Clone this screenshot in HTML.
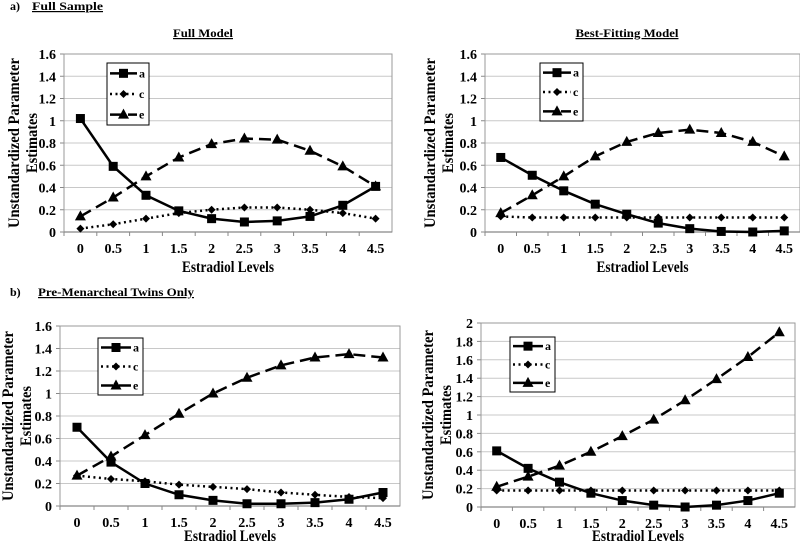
<!DOCTYPE html>
<html><head><meta charset="utf-8"><style>
body{margin:0;background:#fff;}
svg{display:block;}
svg text{font-family:"Liberation Serif","DejaVu Serif",serif;font-weight:bold;}
</style></head><body>
<svg id="fig" width="800" height="546" viewBox="0 0 800 546"></svg>
<script>
const xCats=["0","0.5","1","1.5","2","2.5","3","3.5","4","4.5"];
const p1A=[1.02,0.59,0.33,0.19,0.12,0.09,0.10,0.14,0.24,0.41];
const p1C=[0.03,0.07,0.12,0.17,0.20,0.22,0.22,0.20,0.17,0.12];
const p1E=[0.14,0.31,0.50,0.67,0.79,0.84,0.83,0.73,0.59,0.41];
const p2A=[0.67,0.51,0.37,0.25,0.16,0.08,0.03,0.005,0,0.01];
const p2C=[0.14,0.13,0.13,0.13,0.13,0.13,0.13,0.13,0.13,0.13];
const p2E=[0.17,0.33,0.50,0.68,0.81,0.89,0.92,0.89,0.81,0.68];
const p3A=[0.70,0.39,0.20,0.10,0.05,0.02,0.02,0.03,0.06,0.12];
const p3C=[0.27,0.24,0.22,0.19,0.17,0.15,0.12,0.10,0.08,0.07];
const p3E=[0.27,0.44,0.63,0.82,1.00,1.14,1.25,1.32,1.35,1.32];
const p4A=[0.61,0.42,0.27,0.15,0.07,0.02,0,0.02,0.07,0.15];
const p4C=[0.18,0.18,0.18,0.18,0.18,0.18,0.18,0.18,0.18,0.18];
const p4E=[0.22,0.33,0.45,0.60,0.77,0.95,1.16,1.39,1.63,1.90];
const yTicks16=["0","0.2","0.4","0.6","0.8","1","1.2","1.4","1.6"];
const yTicks2=["0","0.2","0.4","0.6","0.8","1","1.2","1.4","1.6","1.8","2"];

const NS="http://www.w3.org/2000/svg";
const svg=document.getElementById('fig');
const FF='"Liberation Serif", "DejaVu Serif", serif';
function mk(tag,attrs,parent,text){const e=document.createElementNS(NS,tag);for(const k in attrs)e.setAttribute(k,attrs[k]);if(tag==='text'){e.setAttribute('font-family',FF);e.setAttribute('font-weight','bold');}if(text!==undefined)e.textContent=text;(parent||svg).appendChild(e);return e;}

function txt(x,y,s,size,name,anchor,extra){
  const t=mk('text',Object.assign({x:x,y:y,'font-size':size,'text-anchor':anchor||'middle'},extra||{}),svg,s);
  
  
  return t;
}
const fit=w=>({textLength:w,lengthAdjust:'spacingAndGlyphs'});
txt(10,10,"a)",12,'panel-a-label','start');
txt(32,10,"Full Sample",12,'panel-a-title','start',Object.assign({'text-decoration':'underline'},fit(71)));
txt(10,296,"b)",12,'panel-b-label','start');
txt(38,296,"Pre-Menarcheal Twins Only",12,'panel-b-title','start',Object.assign({'text-decoration':'underline'},fit(156)));
txt(203,37,"Full Model",12,'full-model-title','middle',Object.assign({'text-decoration':'underline'},fit(60)));
txt(627,37,"Best-Fitting Model",12,'best-fitting-title','middle',Object.assign({'text-decoration':'underline'},fit(103)));

function panel(id,L,R,T,B,ymax,ticks,A,C,E,leg,ytx,xtY){
  const g=mk('g',{});
  
  
  const n=xCats.length, step=(R-L)/n;
  const xs=i=>L+step*(i+0.5);
  const ys=v=>B-(v/ymax)*(B-T);
  const tv=ticks.map(Number);
  tv.forEach((v,i)=>{
    if(v>0){const gl=mk('line',{x1:L,x2:R,y1:ys(v),y2:ys(v),stroke:'#c8c8c8','stroke-width':1},g);
      }
    const t=mk('text',{x:L-8,y:ys(v)+5,'font-size':14,'text-anchor':'end'},g,ticks[i]);
    
    mk('line',{x1:L-4,x2:L,y1:ys(v),y2:ys(v),stroke:'#888'},g);
  });
  const fr=mk('rect',{x:L,y:T,width:R-L,height:B-T,fill:'none',stroke:'#999','stroke-width':1},g);
  
  mk('line',{x1:L,x2:R,y1:B,y2:B,stroke:'#888','stroke-width':1.2},g);
  xCats.forEach((c,i)=>{
    mk('line',{x1:L+step*i,x2:L+step*i,y1:B,y2:B+4,stroke:'#888'},g);
    const t=mk('text',{x:xs(i),y:B+21,'font-size':14,'text-anchor':'middle'},g,c);
    
  });
  const xt=mk('text',Object.assign({x:(L+R)/2-46,y:xtY,'font-size':16,'text-anchor':'start'},fit(92)),g,'Estradiol Levels');
  
  const cy=(T+B)/2;
  const yt=mk('text',{transform:`translate(${ytx},${cy}) rotate(-90)`,'font-size':16,'text-anchor':'start'},g);
  
  mk('tspan',Object.assign({x:-85,y:0},fit(170)),yt,'Unstandardized Parameter');
  mk('tspan',Object.assign({x:-30,y:18},fit(60)),yt,'Estimates');
  const series=[[A,'a','none','square'],[C,'c','2 3.5','diamond'],[E,'e','12 6','triangle']];
  function marker(kind,x,y,par){
    let m;
    if(kind==='square')m=mk('rect',{x:x-4.5,y:y-4.5,width:9,height:9,fill:'#000'},par);
    else if(kind==='diamond')m=mk('polygon',{points:`${x},${y-4} ${x+4},${y} ${x},${y+4} ${x-4},${y}`,fill:'#000'},par);
    else m=mk('polygon',{points:`${x},${y-6} ${x+5.5},${y+4} ${x-5.5},${y+4}`,fill:'#000'},par);
    return m;
  }
  series.forEach(([vals,nm,dash,kind])=>{
    const pl=mk('polyline',{points:vals.map((v,i)=>xs(i)+','+ys(v)).join(' '),fill:'none',stroke:'#000','stroke-width':2.5,'stroke-dasharray':dash},g);
    
    vals.forEach((v,i)=>{const m=marker(kind,xs(i),ys(v),g);
      });
  });
  const [lx,ly,lw,lh]=leg;
  const lg=mk('g',{},g);
  
  mk('rect',{x:lx,y:ly,width:lw,height:lh,fill:'#fff',stroke:'#000','stroke-width':1},lg);
  series.forEach(([vals,nm,dash,kind],k)=>{
    const yy=ly+lh*(k+0.5)/3;
    const e=mk('g',{},lg);
    
    mk('line',{x1:lx+3,x2:lx+lw-12,y1:yy,y2:yy,stroke:'#000','stroke-width':2.5,'stroke-dasharray':dash},e);
    marker(kind,lx+3+(lw-15)/2,yy,e);
    mk('text',{x:lx+lw-10,y:yy+4,'font-size':12,'text-anchor':'start'},e,nm);
  });
}
panel('chart-full-model',64,392,54,232,1.6,yTicks16,p1A,p1C,p1E,[107,63,42,62],19,272);
panel('chart-best-fitting',485,800,54,232,1.6,yTicks16,p2A,p2C,p2E,[540,63,43,58],435,272);
panel('chart-premenarcheal-full',60,400,326,506,1.6,yTicks16,p3A,p3C,p3E,[98,338,45,57],13,541);
panel('chart-premenarcheal-best',481,795,323,507,2,yTicks2,p4A,p4C,p4E,[510,337,45,55],433,541);
</script>
</body></html>
